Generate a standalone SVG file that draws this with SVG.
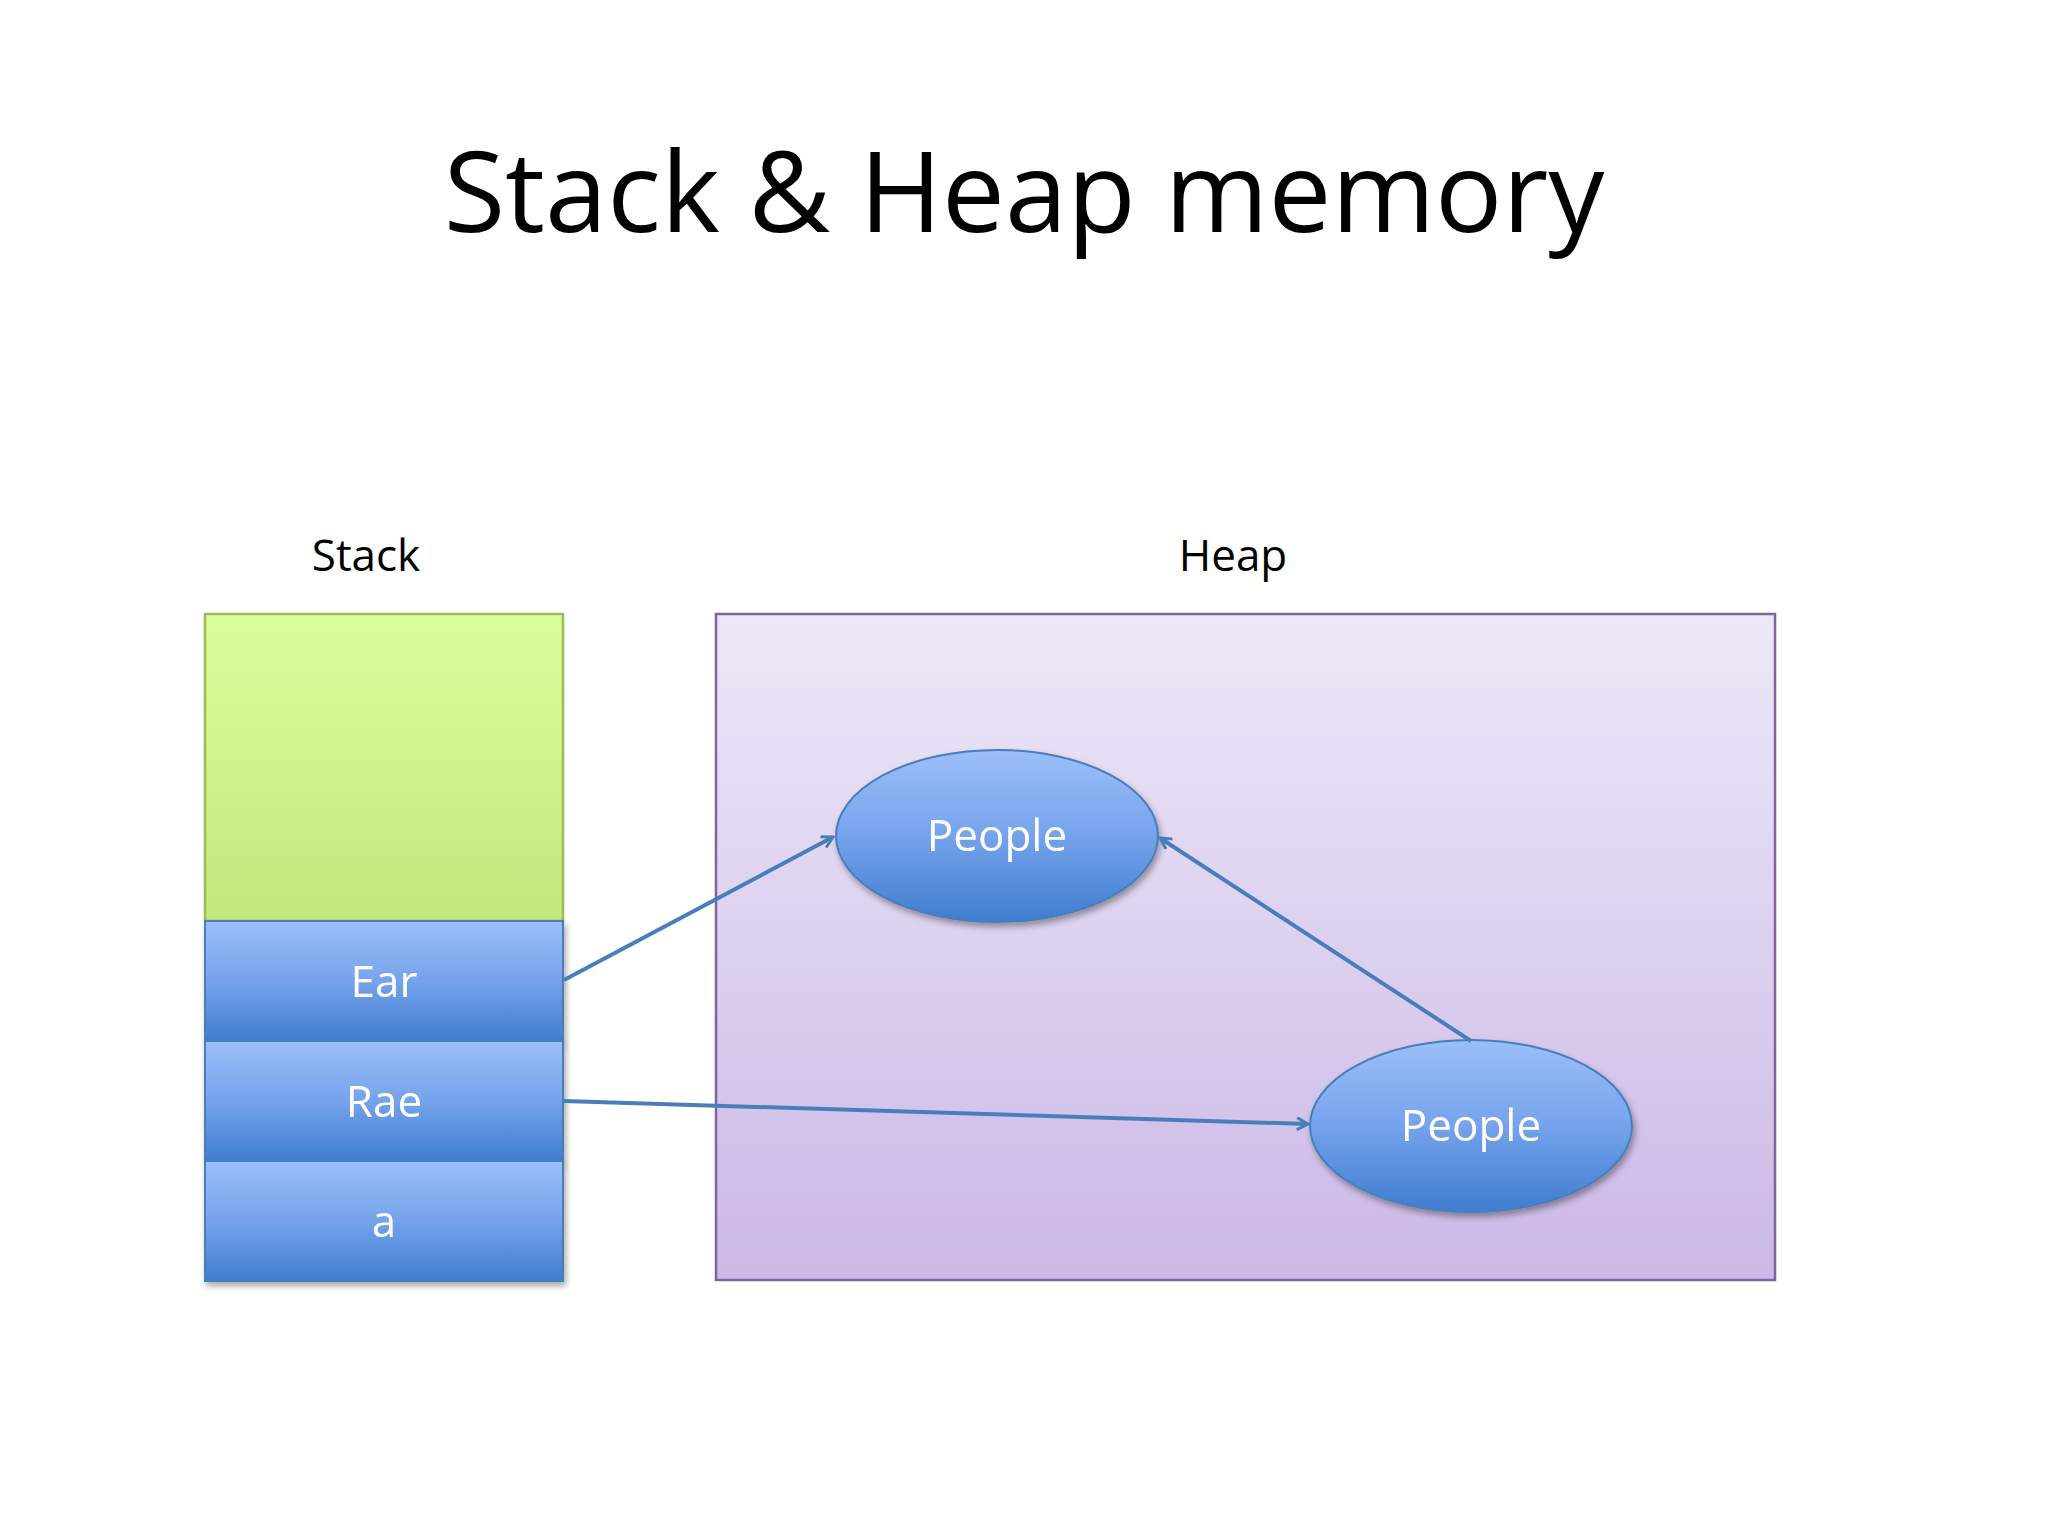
<svg xmlns="http://www.w3.org/2000/svg" width="2048" height="1536" viewBox="0 0 2048 1536">
<defs>
<linearGradient id="blue" x1="0" y1="0" x2="0" y2="1"><stop offset="0" stop-color="#9bbff9"/><stop offset="0.45" stop-color="#7aa6ee"/><stop offset="1" stop-color="#3f7dcf"/></linearGradient>
<linearGradient id="green" x1="0" y1="0" x2="0" y2="1"><stop offset="0" stop-color="#dbfe9c"/><stop offset="1" stop-color="#c3e77a"/></linearGradient>
<linearGradient id="purple" x1="0" y1="0" x2="0" y2="1"><stop offset="0" stop-color="#ede8f8"/><stop offset="1" stop-color="#cbb8e6"/></linearGradient>
<marker id="arr" markerWidth="14" markerHeight="14" refX="12" refY="7" orient="auto" markerUnits="userSpaceOnUse"><path d="M1,1 L12,7 L1,13" fill="none" stroke="#4a7ebb" stroke-width="3"/></marker>
<filter id="sh" x="-10%" y="-10%" width="130%" height="130%"><feDropShadow dx="2" dy="4" stdDeviation="3" flood-opacity="0.35"/></filter>
</defs>
<style>
text{font-family:"Open Sans","Liberation Sans",sans-serif;text-anchor:middle}
.lbl{font-size:44px;fill:#000}
.w{font-size:44px;fill:#fff}
.box{fill:url(#blue);stroke:#4a7ebb;stroke-width:2}
.conn{stroke:#4a7ebb;stroke-width:4;fill:none;marker-end:url(#arr)}
</style>
<rect width="2048" height="1536" fill="#fff"/>
<text x="1024" y="232" style="font-size:112px" fill="#000">Stack &amp; Heap memory</text>
<text class="lbl" x="366" y="571">Stack</text>
<text class="lbl" x="1233" y="571">Heap</text>
<g id="heap"><rect x="716" y="614" width="1059" height="666" fill="url(#purple)" stroke="#8064a2" stroke-width="2.5"/></g>
<g id="stack"><rect x="205" y="614" width="358" height="307" fill="url(#green)" stroke="#9bbb59" stroke-width="2.5"/></g>
<g id="ear" filter="url(#sh)"><rect class="box" x="205" y="921" width="358" height="120"/><text class="w" x="384" y="997">Ear</text></g>
<g id="rae" filter="url(#sh)"><rect class="box" x="205" y="1041" width="358" height="120"/><text class="w" x="384" y="1117">Rae</text></g>
<g id="a" filter="url(#sh)"><rect class="box" x="205" y="1161" width="358" height="120"/><text class="w" x="384" y="1237">a</text></g>
<g id="people1" filter="url(#sh)"><ellipse cx="997" cy="836" rx="161" ry="86" fill="url(#blue)" stroke="#4a7ebb" stroke-width="2"/><text class="w" x="997" y="851">People</text></g>
<g id="people2" filter="url(#sh)"><ellipse cx="1471" cy="1126" rx="161" ry="86" fill="url(#blue)" stroke="#4a7ebb" stroke-width="2"/><text class="w" x="1471" y="1141">People</text></g>
<g id="connectors">
<line class="conn" x1="564" y1="980" x2="833" y2="837"/>
<line class="conn" x1="564" y1="1101" x2="1308" y2="1124"/>
<line class="conn" x1="1471" y1="1041" x2="1160" y2="838"/>
</g>
</svg>
